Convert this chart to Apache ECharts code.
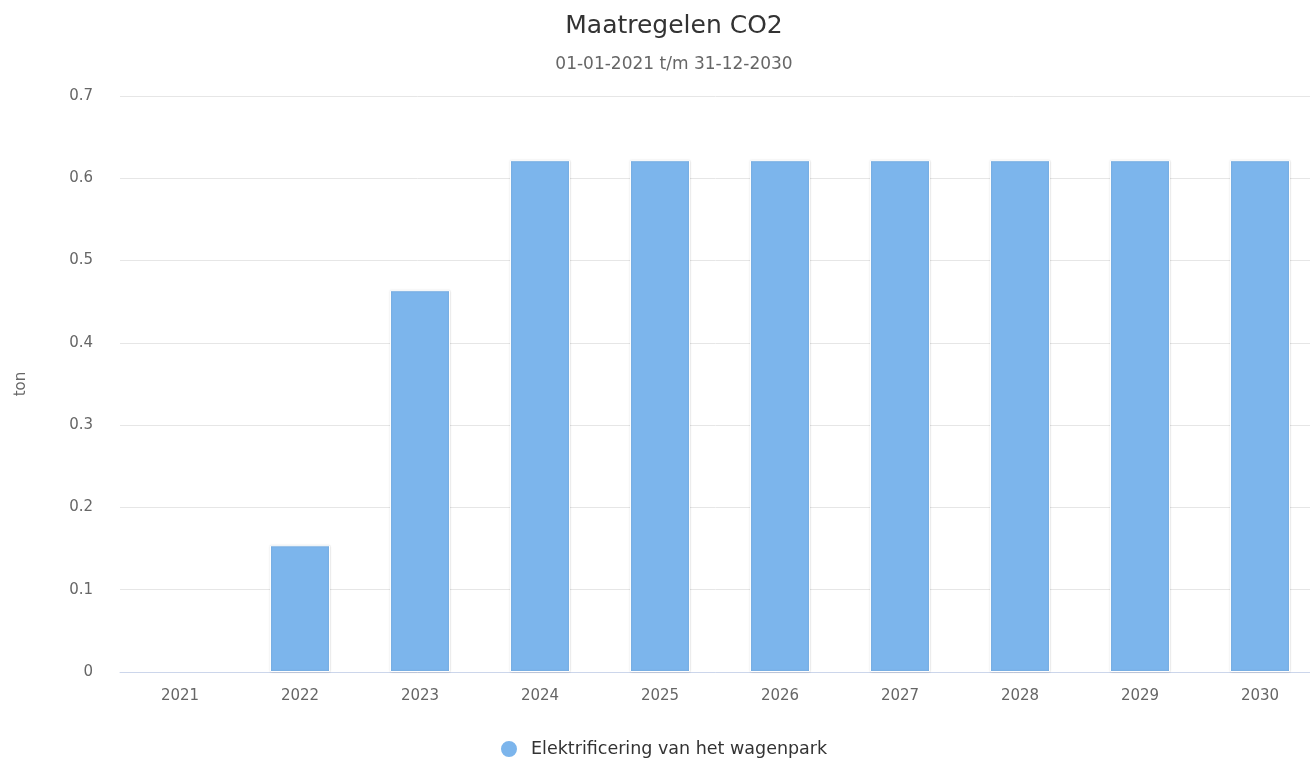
<!DOCTYPE html>
<html>
<head>
<meta charset="utf-8">
<script src="https://cdn.jsdelivr.net/npm/echarts@6/dist/echarts.min.js"></script>
<style>
    html, body { margin: 0; padding: 0; background: #fff; }
    #chart { width: 1310px; height: 758px; }
</style>
</head>
<body>
<div id="chart"></div>
<script>
// data
const years = ['2021', '2022', '2023', '2024', '2025', '2026', '2027', '2028', '2029', '2030'];
const elektrificering = [0, 0.154, 0.464, 0.622, 0.622, 0.622, 0.622, 0.622, 0.622, 0.622];
const seriesName = 'Elektrificering van het wagenpark';

const font = 'Tahoma, "DejaVu Sans", sans-serif';
const chart = echarts.init(document.getElementById('chart'));

// a zero bar draws no border in the original
const barData = elektrificering.map(v => v === 0
    ? { value: v, itemStyle: { borderWidth: 0, shadowBlur: 0 } }
    : v);

chart.setOption({
    textStyle: { fontFamily: font },
    title: {
        text: 'Maatregelen CO2',
        subtext: '01-01-2021 t/m 31-12-2030',
        left: 669,
        textAlign: 'center',
        top: 9,
        itemGap: 17,
        textStyle: { fontSize: 25, fontWeight: 'normal', color: '#333', fontFamily: font },
        subtextStyle: { fontSize: 17, color: '#666', fontFamily: font }
    },
    legend: {
        top: 734,
        left: 494,
        icon: 'circle',
        itemWidth: 18,
        itemHeight: 18,
        textStyle: { fontSize: 17.5, color: '#333', fontFamily: font, padding: [0, 0, 0, 8] },
        data: [seriesName]
    },
    // plot area runs past the right edge, like the original
    grid: { left: 120, width: 1200, top: 96, bottom: 86, outerBoundsMode: 'none' },
    xAxis: {
        type: 'category',
        data: years,
        axisLine: { lineStyle: { color: '#ccd6eb' } },
        axisTick: { show: false },
        axisLabel: { color: '#666', fontSize: 15, margin: 17 }
    },
    yAxis: {
        type: 'value',
        name: 'ton',
        nameLocation: 'middle',
        nameGap: 91,
        nameTextStyle: { color: '#666', fontSize: 15 },
        min: 0,
        max: 0.7,
        interval: 0.1,
        axisLine: { show: false },
        axisTick: { show: false },
        axisLabel: { color: '#666', fontSize: 15, margin: 27 },
        splitLine: { lineStyle: { color: '#e6e6e6' } }
    },
    series: [{
        name: seriesName,
        type: 'bar',
        data: barData,
        barWidth: '50%',
        itemStyle: {
            color: '#7cb5ec',
            borderColor: '#fff',
            borderWidth: 1,
            shadowColor: 'rgba(0,0,0,0.15)',
            shadowBlur: 2
        }
    }]
});
</script>
</body>
</html>
